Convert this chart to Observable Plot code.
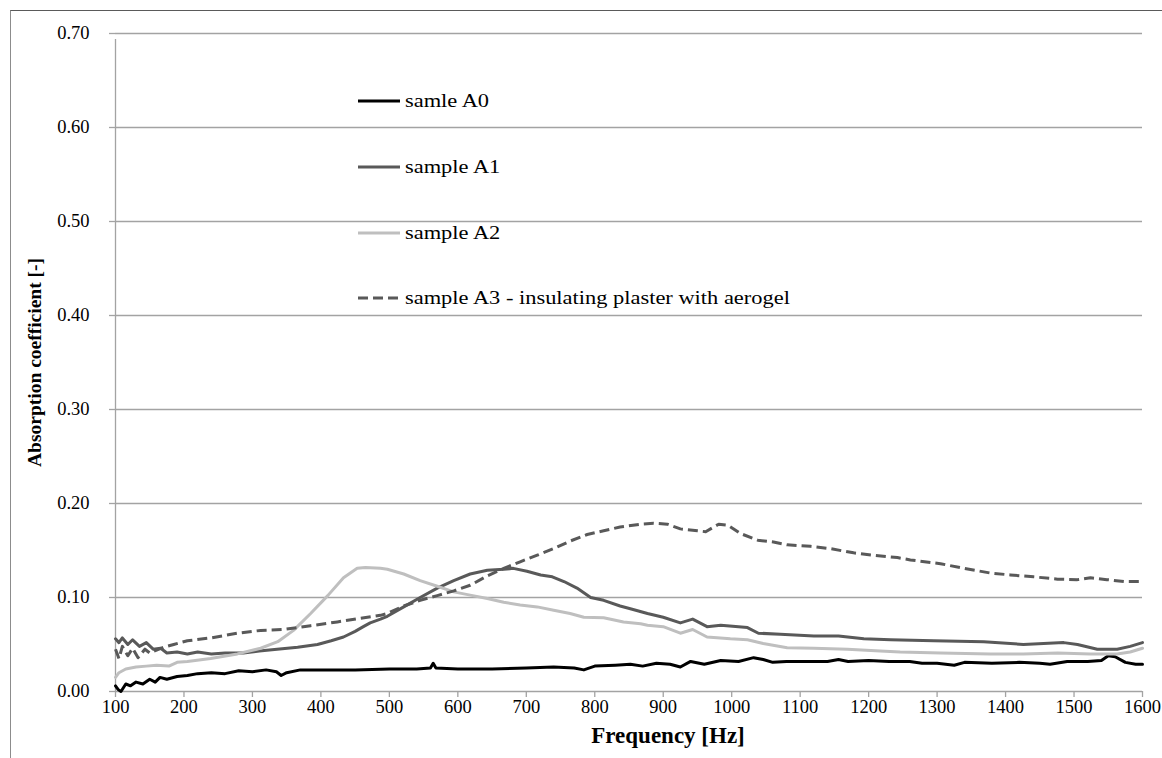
<!DOCTYPE html>
<html>
<head>
<meta charset="utf-8">
<script src="https://cdn.jsdelivr.net/npm/d3@7"></script>
<script src="https://cdn.jsdelivr.net/npm/@observablehq/plot@0.6"></script>
<style>
  html, body { margin: 0; padding: 0; background: #fff; }
  #wrap { position: relative; width: 1162px; height: 758px; overflow: hidden; font-family: "Liberation Serif", "Times New Roman", serif; }
  #frame { position: absolute; left: 10px; top: 10px; right: -2px; bottom: -2px; border-top: 1px solid #5a5a5a; border-left: 1px solid #8c8c8c; pointer-events: none; }
  .leg { position: absolute; left: 358px; height: 20px; display: flex; align-items: center; color: #000; white-space: nowrap; }
  .leg svg { margin-right: 5px; flex: none; }
  .leg span { display: inline-block; font-size: 19.5px; transform: scaleX(1.15); transform-origin: left center; }
</style>
</head>
<body>
<div id="wrap"><div id="frame"></div></div>
<script>
// ---- data ----
const seriesNames = ["samle A0", "sample A1", "sample A2", "sample A3 - insulating plaster with aerogel"];
const seriesColors = ["#000000", "#595959", "#bfbfbf", "#595959"];
const seriesDash = [null, null, null, "10,5"];

const xTicks = [100,200,300,400,500,600,700,800,900,1000,1100,1200,1300,1400,1500,1600];
const yTicks = [0,0.1,0.2,0.3,0.4,0.5,0.6,0.7];

const a0Freq = [100,104,108,115,122,130,140,150,158,165,175,190,205,220,240,260,280,300,320,335,342,350,370,400,450,500,540,560,564,568,600,650,700,740,770,784,800,830,852,870,890,910,925,940,960,984,1010,1032,1046,1060,1080,1100,1120,1140,1156,1170,1200,1230,1260,1278,1300,1325,1340,1380,1420,1450,1465,1490,1520,1540,1550,1560,1575,1590,1600];
const a0Val = [0.006,0.002,0.000,0.008,0.006,0.010,0.008,0.013,0.010,0.015,0.013,0.016,0.017,0.019,0.020,0.019,0.022,0.021,0.023,0.021,0.017,0.020,0.023,0.023,0.023,0.024,0.024,0.025,0.030,0.025,0.024,0.024,0.025,0.026,0.025,0.023,0.027,0.028,0.029,0.027,0.030,0.029,0.026,0.032,0.029,0.033,0.032,0.036,0.034,0.031,0.032,0.032,0.032,0.032,0.034,0.032,0.033,0.032,0.032,0.030,0.030,0.028,0.031,0.030,0.031,0.030,0.029,0.032,0.032,0.033,0.038,0.037,0.031,0.029,0.029];

const a1Freq = [100,105,110,118,125,135,145,155,166,175,190,205,220,240,260,287,310,336,366,395,415,433,450,462,472,487,497,521,545,570,594,618,643,667,681,701,721,738,755,774,794,813,837,852,877,900,925,943,964,984,1023,1039,1071,1120,1156,1193,1232,1295,1368,1426,1485,1505,1534,1563,1582,1600];
const a1Val = [0.056,0.052,0.057,0.050,0.055,0.048,0.052,0.045,0.046,0.041,0.042,0.040,0.042,0.040,0.041,0.041,0.043,0.045,0.047,0.050,0.054,0.058,0.064,0.069,0.073,0.077,0.080,0.090,0.100,0.110,0.118,0.125,0.129,0.130,0.131,0.128,0.124,0.122,0.117,0.110,0.100,0.097,0.091,0.088,0.083,0.079,0.073,0.077,0.069,0.0705,0.068,0.062,0.061,0.059,0.059,0.056,0.055,0.054,0.053,0.050,0.052,0.050,0.045,0.045,0.048,0.052];

const a2Freq = [100,105,115,130,145,160,178,190,205,239,278,312,337,360,385,410,433,453,465,487,497,521,545,570,594,618,643,667,691,716,740,764,784,813,842,867,877,900,925,943,964,998,1023,1046,1081,1120,1169,1217,1246,1305,1378,1426,1476,1524,1563,1582,1600];
const a2Val = [0.015,0.020,0.024,0.026,0.027,0.028,0.027,0.031,0.032,0.035,0.040,0.046,0.053,0.065,0.083,0.102,0.121,0.131,0.132,0.131,0.130,0.125,0.118,0.112,0.106,0.1025,0.099,0.095,0.092,0.090,0.0865,0.083,0.079,0.0785,0.074,0.072,0.0705,0.069,0.062,0.066,0.058,0.056,0.055,0.051,0.0465,0.046,0.045,0.043,0.042,0.041,0.040,0.040,0.041,0.040,0.040,0.042,0.046];

const a3Freq = [100,105,110,118,125,133,143,150,160,170,185,205,239,278,312,345,385,424,458,487,497,521,545,570,594,618,643,667,691,716,740,764,789,813,837,867,886,906,925,950,962,981,994,1013,1038,1061,1081,1115,1144,1178,1207,1242,1261,1305,1339,1378,1407,1441,1476,1505,1524,1548,1573,1600];
const a3Val = [0.045,0.035,0.048,0.038,0.046,0.036,0.045,0.041,0.044,0.047,0.050,0.054,0.057,0.062,0.065,0.066,0.070,0.074,0.078,0.081,0.083,0.091,0.097,0.102,0.107,0.113,0.123,0.131,0.138,0.145,0.152,0.160,0.167,0.171,0.175,0.178,0.179,0.178,0.173,0.171,0.170,0.178,0.177,0.168,0.161,0.159,0.156,0.1545,0.152,0.1475,0.145,0.1425,0.140,0.136,0.131,0.126,0.124,0.122,0.1195,0.119,0.121,0.119,0.117,0.117];

const freqs = [a0Freq, a1Freq, a2Freq, a3Freq];
const vals = [a0Val, a1Val, a2Val, a3Val];

const font = "'Liberation Serif', 'Times New Roman', serif";
const gridColor = "#a3a3a3";

const lineMarks = freqs.map((fr, i) => {
  const rows = fr.map((f, j) => ({f, v: vals[i][j]}));
  return Plot.line(rows, {x: "f", y: "v", stroke: seriesColors[i], strokeWidth: 3,
    strokeDasharray: seriesDash[i] || undefined, strokeLinejoin: "round", strokeLinecap: seriesDash[i] ? "butt" : "round"});
});

const chart = Plot.plot({
  width: 1162, height: 758,
  marginLeft: 115, marginRight: 20, marginTop: 33, marginBottom: 67,
  style: {fontFamily: font, fontSize: "18.5px", color: "#000", background: "transparent", overflow: "visible"},
  x: {domain: [100, 1600], label: null},
  y: {domain: [0, 0.7], label: null},
  marks: [
    Plot.gridY(yTicks, {stroke: gridColor, strokeOpacity: 1, strokeWidth: 1.3}),
    Plot.axisY(yTicks, {tickSize: 6, tickPadding: 20, stroke: gridColor, strokeWidth: 1.3, fill: "#000", tickFormat: d3.format(".2f"), label: null}),
    Plot.axisX(xTicks, {tickSize: 6, tickPadding: 2, stroke: gridColor, strokeWidth: 1.3, fill: "#000", tickFormat: d => String(d), label: null}),
    Plot.ruleX([100], {y1: 0, y2: 0.7, stroke: gridColor, strokeWidth: 1.3, insetBottom: -6}),
    ...lineMarks,
    Plot.text(["Frequency [Hz]"], {frameAnchor: "bottom", textAnchor: "middle", dx: 39, dy: 51, fontWeight: "bold", fontSize: 23, fill: "#000"}),
    Plot.text(["Absorption coefficient [-]"], {frameAnchor: "left", textAnchor: "middle", rotate: -90, dx: -81, fontWeight: "bold", fontSize: 19.5, fill: "#000"})
  ]
});
chart.style.position = "absolute";
chart.style.left = "0px";
chart.style.top = "0px";
const wrap = document.getElementById("wrap");
wrap.insertBefore(chart, wrap.firstChild);

// legend (HTML overlay)
const legendRowsY = [100.7, 167, 232.7, 298];
seriesNames.forEach((name, i) => {
  const d = document.createElement("div");
  d.className = "leg";
  d.style.top = (legendRowsY[i] - 10) + "px";
  const dash = seriesDash[i] ? `stroke-dasharray="${seriesDash[i]}"` : "";
  d.innerHTML = `<svg width="42" height="6"><line x1="0" y1="3" x2="42" y2="3" stroke="${seriesColors[i]}" stroke-width="3.2" ${dash}/></svg><span>${name}</span>`;
  wrap.appendChild(d);
});
</script>
</body>
</html>
